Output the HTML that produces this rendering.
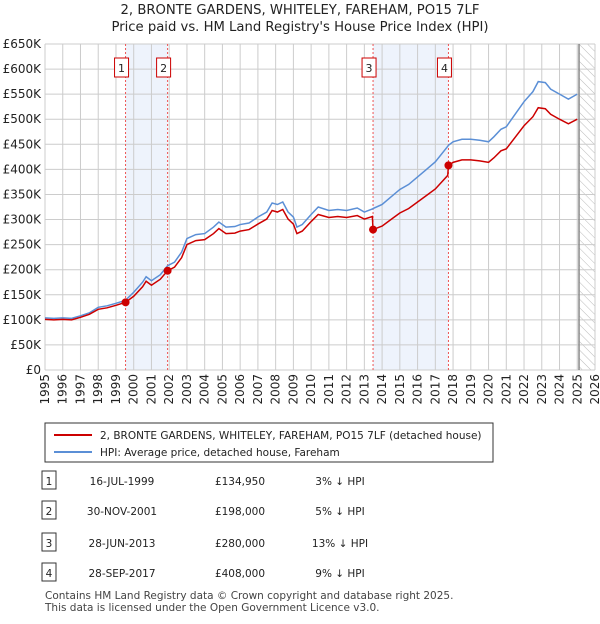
<!DOCTYPE html>
<html><head><meta charset="utf-8"><style>
body{margin:0;background:#fff;font-family:"DejaVu Sans",sans-serif;}
svg text{font-family:"DejaVu Sans",sans-serif;}
</style></head><body>
<svg width="600" height="620" viewBox="0 0 600 620">
<defs><pattern id="hatch" width="6" height="6" patternUnits="userSpaceOnUse" patternTransform="rotate(-45)"><line x1="0" y1="0" x2="0" y2="6" stroke="#bbb" stroke-width="1"/></pattern></defs>
<text x="300" y="14" text-anchor="middle" font-size="13.2" fill="#222">2, BRONTE GARDENS, WHITELEY, FAREHAM, PO15 7LF</text>
<text x="300" y="31" text-anchor="middle" font-size="13.2" fill="#222">Price paid vs. HM Land Registry's House Price Index (HPI)</text>
<g id="plot"></g>
<g>
<rect x="45" y="423" width="448" height="39" fill="#fff" stroke="#333"/>
<line x1="54" y1="435" x2="92" y2="435" stroke="#cc0000" stroke-width="2"/>
<text x="100" y="439" font-size="10.5" fill="#222">2, BRONTE GARDENS, WHITELEY, FAREHAM, PO15 7LF (detached house)</text>
<line x1="54" y1="452" x2="92" y2="452" stroke="#5b8fd6" stroke-width="2"/>
<text x="100" y="456" font-size="10.5" fill="#222">HPI: Average price, detached house, Fareham</text>
</g>
<g id="table" font-size="10.5" fill="#222"></g>
<text x="45" y="599" font-size="10.5" fill="#444">Contains HM Land Registry data © Crown copyright and database right 2025.</text>
<text x="45" y="611" font-size="10.5" fill="#444">This data is licensed under the Open Government Licence v3.0.</text>
</svg>
<script>
const years=[1995,1995.5,1996,1996.5,1997,1997.5,1998,1998.5,1999,1999.54,2000,2000.5,2000.7,2001,2001.5,2001.91,2002.3,2002.7,2003,2003.5,2004,2004.5,2004.8,2005.2,2005.7,2006,2006.5,2007,2007.5,2007.8,2008.1,2008.4,2008.7,2009,2009.2,2009.5,2010,2010.4,2011,2011.5,2012,2012.6,2013,2013.45,2013.49,2014,2014.5,2015,2015.5,2016,2016.5,2017,2017.7,2017.74,2018,2018.5,2019,2019.5,2020,2020.3,2020.7,2021,2021.5,2022,2022.5,2022.8,2023.2,2023.5,2024,2024.5,2025];
const hpiValues=[104,103,104,103,108,114,125,128,133,139,155,175,186,178,190,208,215,235,262,270,272,285,295,285,286,290,293,305,315,333,330,335,315,305,285,290,310,325,318,320,318,323,315,321,322,330,345,360,370,385,400,415,446,448,455,460,460,458,455,465,480,485,510,535,555,575,573,560,550,540,550];
const priceValues=[101,100,101,100,105,111,121,124,129,135,147,166,177,169,181,198,205,224,250,258,260,272,282,272,273,277,280,291,301,318,315,320,301,291,272,277,296,310,304,306,304,308,301,306,280,287,300,313,322,335,348,361,388,408,414,419,419,417,414,423,437,441,464,487,505,523,521,510,500,491,500];
const saleLabels=["1","2","3","4"];
const saleYears=[1999.54,2001.91,2013.49,2017.74];
const salePrices=[134.95,198,280,408];
const saleDates=["16-JUL-1999","30-NOV-2001","28-JUN-2013","28-SEP-2017"];
const salePriceText=["£134,950","£198,000","£280,000","£408,000"];
const saleDiff=["3% ↓ HPI","5% ↓ HPI","13% ↓ HPI","9% ↓ HPI"];
const yTicks=[0,50,100,150,200,250,300,350,400,450,500,550,600,650];
const yTickLabels=["£0","£50K","£100K","£150K","£200K","£250K","£300K","£350K","£400K","£450K","£500K","£550K","£600K","£650K"];
const xTicks=[1995,1996,1997,1998,1999,2000,2001,2002,2003,2004,2005,2006,2007,2008,2009,2010,2011,2012,2013,2014,2015,2016,2017,2018,2019,2020,2021,2022,2023,2024,2025,2026];
const dataEnd=2025.1;

const X0=45,X1=595,Y0=370,Y1=44;
const xs=y=>X0+(y-1995)/(2026-1995)*(X1-X0);
const ys=v=>Y0-v/650*(Y0-Y1);
const NS="http://www.w3.org/2000/svg";
const plot=document.getElementById('plot');
function mk(tag,attrs,parent){const e=document.createElementNS(NS,tag);for(const k in attrs)e.setAttribute(k,attrs[k]);(parent||plot).appendChild(e);return e;}

for(let i=0;i<4;i+=2){const r=mk('rect',{x:xs(saleYears[i]),y:Y1,width:xs(saleYears[i+1])-xs(saleYears[i]),height:Y0-Y1,fill:'#eef3fc'});

}
const h=mk('rect',{x:xs(dataEnd),y:Y1,width:X1-xs(dataEnd),height:Y0-Y1,fill:'url(#hatch)'});


yTicks.forEach((t,i)=>{const l=mk('line',{x1:X0,x2:X1,y1:ys(t),y2:ys(t),stroke:'#ccc'});


const tx=mk('text',{x:41,y:ys(t)+4,'text-anchor':'end','font-size':12,fill:'#222'});tx.textContent=yTickLabels[i];

});
xTicks.forEach(t=>{const l=mk('line',{x1:xs(t),x2:xs(t),y1:Y1,y2:Y0,stroke:'#ccc'});


const tx=mk('text',{x:0,y:0,'text-anchor':'end','font-size':12,fill:'#222',transform:`translate(${xs(t)+4},374) rotate(-90)`});tx.textContent=t;

});
const dl=mk('line',{x1:xs(dataEnd),x2:xs(dataEnd),y1:Y1,y2:Y0,stroke:'#888','stroke-width':1.5});


saleYears.forEach((y,i)=>{const l=mk('line',{x1:xs(y),x2:xs(y),y1:Y1,y2:Y0,stroke:'#e55','stroke-dasharray':'2,2'});


const b=mk('rect',{x:xs(y)-11,y:58,width:14,height:19,fill:'#fff',stroke:'#cc0000'});


const t=mk('text',{x:xs(y)-4,y:72,'text-anchor':'middle','font-size':11,fill:'#222'});t.textContent=saleLabels[i];

});
const hp=mk('polyline',{points:years.map((y,i)=>xs(y)+','+ys(hpiValues[i])).join(' '),fill:'none',stroke:'#5b8fd6','stroke-width':1.5});


const pp=mk('polyline',{points:years.map((y,i)=>xs(y)+','+ys(priceValues[i])).join(' '),fill:'none',stroke:'#cc0000','stroke-width':1.5});


saleYears.forEach((y,i)=>{const c=mk('circle',{cx:xs(y),cy:ys(salePrices[i]),r:4,fill:'#cc0000'});

});
const tb=document.getElementById('table');
const rowY=[483,513,545,575];
saleLabels.forEach((s,i)=>{const r=mk('rect',{x:42,y:rowY[i]-12,width:14,height:18,fill:'#fff',stroke:'#333'},tb);


const cols=[[49,s,'middle'],[122,saleDates[i],'middle'],[240,salePriceText[i],'middle'],[340,saleDiff[i],'middle']];
cols.forEach(c=>{const t=mk('text',{x:c[0],y:rowY[i]+2,'text-anchor':c[2],'font-size':10.5,fill:'#222'},tb);t.textContent=c[1];

});});
</script>
</body></html>
